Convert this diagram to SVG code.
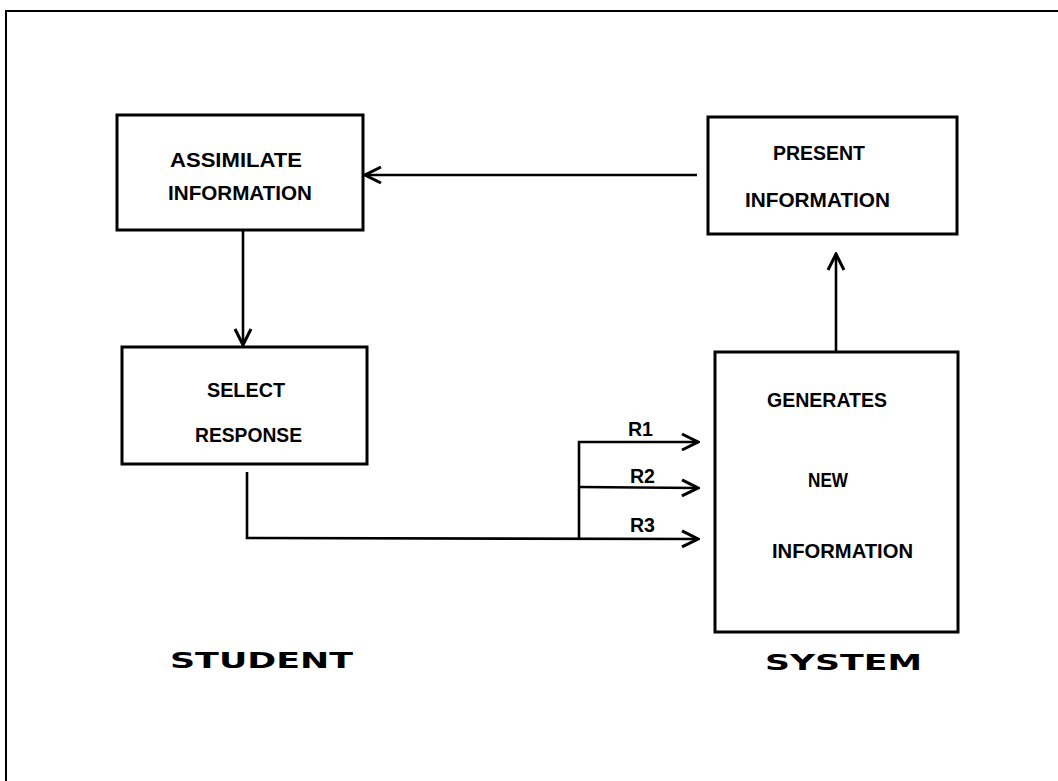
<svg xmlns="http://www.w3.org/2000/svg" width="1058" height="781" viewBox="0 0 1058 781">
<defs>
<style>
.box{fill:none;stroke:#000;stroke-width:3;stroke-linejoin:miter}
.ln{fill:none;stroke:#000;stroke-width:2.6;stroke-linejoin:miter}
.lbl{font-family:"Liberation Sans",Arial,sans-serif;font-weight:bold;font-size:20px;fill:#000}
.big{font-family:"DejaVu Sans","Liberation Sans",sans-serif;font-weight:bold;font-size:22px;fill:#000}
</style>
<marker id="ah" viewBox="0 0 20 20" refX="18" refY="10" markerWidth="20" markerHeight="20" markerUnits="userSpaceOnUse" orient="auto">
<path d="M2,2 L18,10 L2,18" fill="none" stroke="#000" stroke-width="3"/>
</marker>
</defs>
<rect width="1058" height="781" fill="#fff"/>
<g id="frame">
<path d="M6,781 L6,11 L1058,11" fill="none" stroke="#000" stroke-width="2"/>
</g>
<g id="assimilate">
<rect class="box" x="117" y="115" width="246" height="115"/>
<text class="lbl" x="170" y="167" textLength="132" lengthAdjust="spacingAndGlyphs">ASSIMILATE</text>
<text class="lbl" x="168" y="200" textLength="144" lengthAdjust="spacingAndGlyphs">INFORMATION</text>
</g>
<g id="present">
<rect class="box" x="708" y="117" width="249" height="117"/>
<text class="lbl" x="773" y="160" textLength="92" lengthAdjust="spacingAndGlyphs">PRESENT</text>
<text class="lbl" x="745" y="207" textLength="145" lengthAdjust="spacingAndGlyphs">INFORMATION</text>
</g>
<g id="select">
<rect class="box" x="122" y="347" width="245" height="117"/>
<text class="lbl" x="207" y="397" textLength="78" lengthAdjust="spacingAndGlyphs">SELECT</text>
<text class="lbl" x="195" y="442" textLength="107" lengthAdjust="spacingAndGlyphs">RESPONSE</text>
</g>
<g id="generates">
<rect class="box" x="715" y="352" width="243" height="280"/>
<text class="lbl" x="767" y="407" textLength="120" lengthAdjust="spacingAndGlyphs">GENERATES</text>
<text class="lbl" x="808" y="487" textLength="40" lengthAdjust="spacingAndGlyphs">NEW</text>
<text class="lbl" x="772" y="558" textLength="141" lengthAdjust="spacingAndGlyphs">INFORMATION</text>
</g>
<g id="connectors">
<path class="ln" d="M697,175 L365,175" marker-end="url(#ah)"/>
<path class="ln" d="M243,231 L243,345" marker-end="url(#ah)"/>
<path class="ln" d="M836,352 L836,254" marker-end="url(#ah)"/>
<path class="ln" d="M247,472 L247,538 L698,539" marker-end="url(#ah)"/>
<path class="ln" d="M579,538 L579,442 L698,442" marker-end="url(#ah)"/>
<path class="ln" d="M579,487 L698,488" marker-end="url(#ah)"/>
<text class="lbl" x="628" y="436" textLength="25" lengthAdjust="spacingAndGlyphs">R1</text>
<text class="lbl" x="630" y="483" textLength="25" lengthAdjust="spacingAndGlyphs">R2</text>
<text class="lbl" x="630" y="532" textLength="25" lengthAdjust="spacingAndGlyphs">R3</text>
</g>
<g id="labels">
<text class="big" x="170" y="668" textLength="183" lengthAdjust="spacingAndGlyphs">STUDENT</text>
<text class="big" x="765" y="670" textLength="157" lengthAdjust="spacingAndGlyphs">SYSTEM</text>
</g>
</svg>
